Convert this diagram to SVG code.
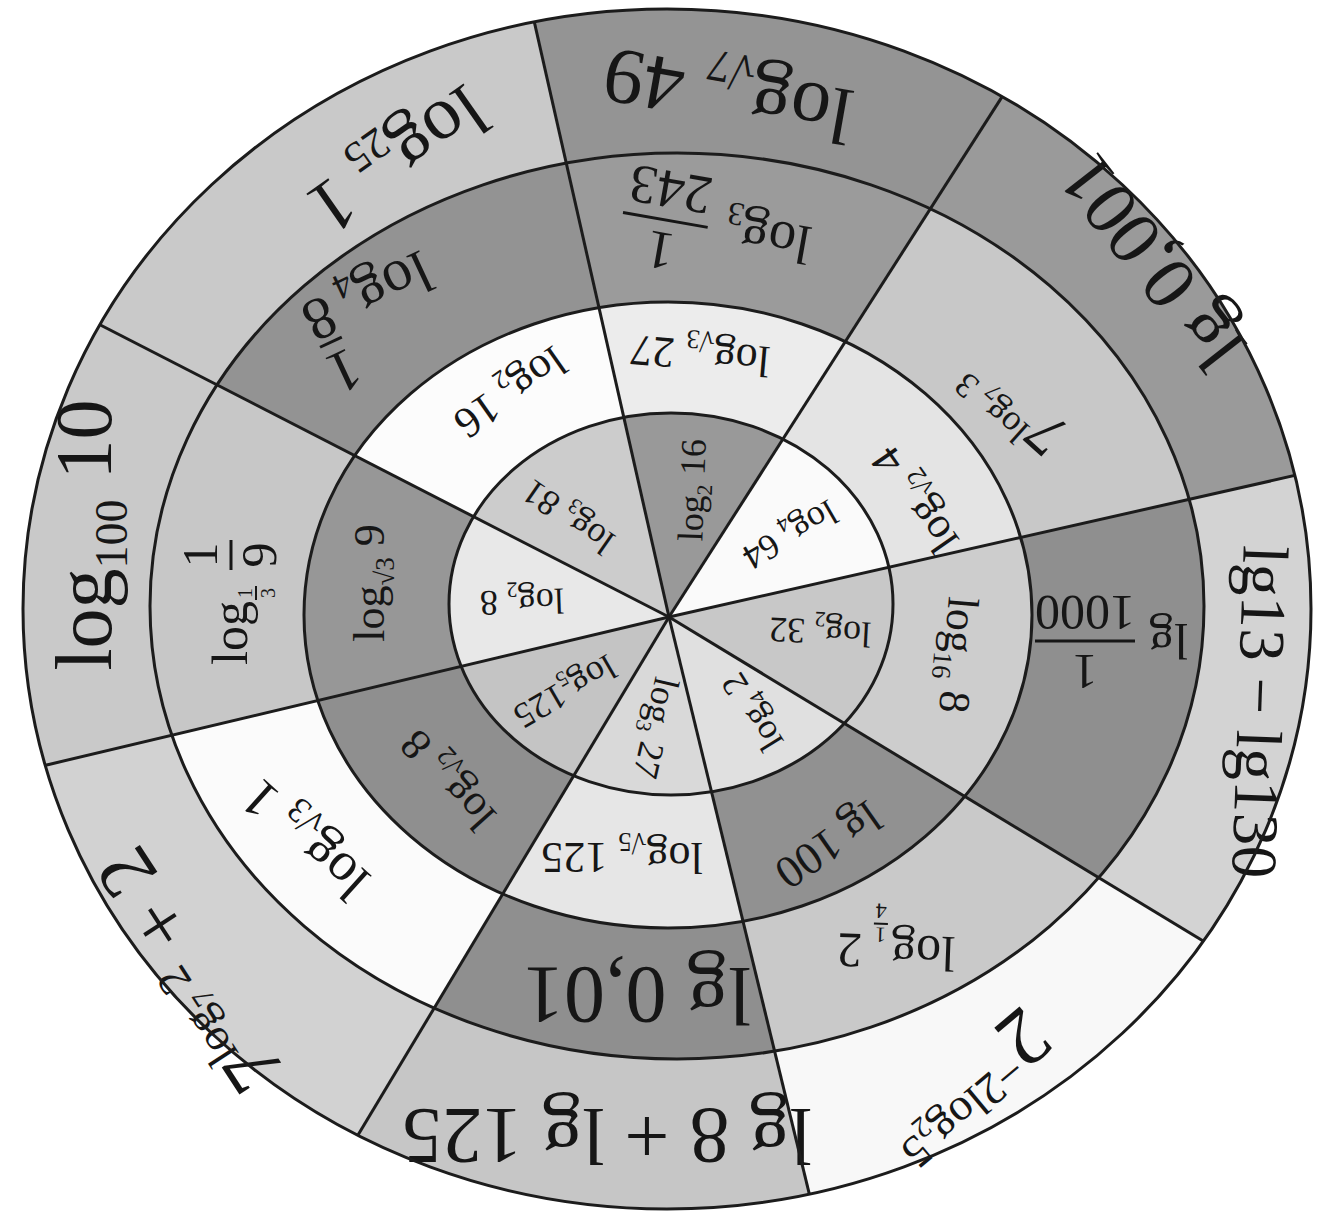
<svg xmlns="http://www.w3.org/2000/svg" width="1321" height="1220" viewBox="0 0 1321 1220">
<style>
.t{font-family:"Liberation Serif","DejaVu Serif",serif;fill:#161616}
.ln{stroke:#1c1c1c;stroke-width:3;fill:none}
.bar{stroke:#161616;stroke-width:3}
</style>
<defs>
<clipPath id="c4"><ellipse cx="667" cy="609" rx="644" ry="600"/></clipPath>
<clipPath id="c3"><ellipse cx="677" cy="606" rx="527" ry="453"/></clipPath>
<clipPath id="c2"><ellipse cx="668" cy="615" rx="364" ry="313"/></clipPath>
<clipPath id="c1"><ellipse cx="671" cy="604" rx="222" ry="191"/></clipPath>
</defs>
<rect width="1321" height="1220" fill="#ffffff"/>

<!-- outer ring -->
<g id="outer-a"><polygon points="669,617 -441,47 401,-567" fill="#c9c9c9" clip-path="url(#c4)"/>
<text class="t" font-size="76" text-anchor="middle" y="25" transform="translate(398,160) rotate(145)">log<tspan font-size="44" dy="15">25</tspan><tspan dy="-15"> 1</tspan></text></g>
<g id="outer-b"><polygon points="669,617 401,-567 1331,-417" fill="#949494" clip-path="url(#c4)"/>
<text class="t" font-size="80" text-anchor="middle" y="26" transform="translate(728,95) rotate(190)">log<tspan font-size="46" dy="16">√7</tspan><tspan dy="-16"> 49</tspan></text></g>
<g id="outer-c"><polygon points="669,617 1331,-417 1951,327" fill="#9a9a9a" clip-path="url(#c4)"/>
<text class="t" font-size="76" text-anchor="middle" y="25" transform="translate(1152,262) rotate(232)">lg 0,001</text></g>
<g id="outer-d"><polygon points="669,617 1951,327 1767,1283" fill="#d3d3d3" clip-path="url(#c4)"/>
<text class="t" font-size="65" text-anchor="middle" y="22" transform="translate(1260,712) rotate(92)">lg13 − lg130</text></g>
<g id="outer-e"><polygon points="669,617 1767,1283 955,1793" fill="#f8f8f8" clip-path="url(#c4)"/>
<text class="t" font-size="82" text-anchor="middle" y="27" transform="translate(968,1085) rotate(140)">2<tspan font-size="46" dy="-30">−2log</tspan><tspan font-size="30" dy="10">2</tspan><tspan font-size="46" dy="-10">5</tspan></text></g>
<g id="outer-f"><polygon points="669,617 955,1793 5,1723" fill="#c6c6c6" clip-path="url(#c4)"/>
<text class="t" font-size="80" text-anchor="middle" y="26" transform="translate(607,1135) rotate(180)">lg 8 + lg 125</text></g>
<g id="outer-g"><polygon points="669,617 5,1723 -601,919" fill="#d2d2d2" clip-path="url(#c4)"/>
<text class="t" font-size="80" text-anchor="middle" y="26" transform="translate(190,970) rotate(237)">7<tspan font-size="46" dy="-30">log</tspan><tspan font-size="30" dy="10">7</tspan><tspan font-size="46" dy="-10"> 2</tspan><tspan dy="30"> + 2</tspan></text></g>
<g id="outer-h"><polygon points="669,617 -601,919 -441,47" fill="#c9c9c9" clip-path="url(#c4)"/>
<text class="t" font-size="80" text-anchor="middle" y="26" transform="translate(85,535) rotate(270)">log<tspan font-size="46" dy="16">100</tspan><tspan dy="-16"> 10</tspan></text></g>

<!-- ring 3 -->
<g id="r3-a"><polygon points="669,617 -441,47 401,-567" fill="#939393" clip-path="url(#c3)"/>
<g class="t" transform="translate(372,312) rotate(155)">
<text font-size="60" x="-70" y="36">log<tspan font-size="36" dy="12">4</tspan></text>
<text font-size="60" x="50" y="36" text-anchor="middle">8</text>
<line class="bar" x1="38" y1="-10" x2="62" y2="-10"/>
<text font-size="60" x="50" y="-22" text-anchor="middle">1</text></g></g>
<g id="r3-b"><polygon points="669,617 401,-567 1331,-417" fill="#9b9b9b" clip-path="url(#c3)"/>
<g class="t" transform="translate(700,225) rotate(190)">
<text font-size="55" x="-112" y="17">log<tspan font-size="33" dy="11">3</tspan></text>
<line class="bar" x1="-8" y1="-1" x2="78" y2="-1"/>
<text font-size="55" x="35" y="-14" text-anchor="middle">1</text>
<text font-size="55" x="35" y="48" text-anchor="middle">243</text></g></g>
<g id="r3-c"><polygon points="669,617 1331,-417 1951,327" fill="#c8c8c8" clip-path="url(#c3)"/>
<text class="t" font-size="62" text-anchor="middle" y="20" transform="translate(1015,405) rotate(222)">7<tspan font-size="36" dy="-26">log</tspan><tspan font-size="24" dy="9">7</tspan><tspan font-size="36" dy="-9"> 3</tspan></text></g>
<g id="r3-d"><polygon points="669,617 1951,327 1767,1283" fill="#8f8f8f" clip-path="url(#c3)"/>
<g class="t" transform="translate(1110,640) rotate(180)">
<text font-size="50" x="-78" y="16">lg</text>
<line class="bar" x1="-25" y1="-1" x2="75" y2="-1"/>
<text font-size="50" x="25" y="-15" text-anchor="middle">1</text>
<text font-size="50" x="25" y="44" text-anchor="middle">1000</text></g></g>
<g id="r3-e"><polygon points="669,617 1767,1283 955,1793" fill="#c9c9c9" clip-path="url(#c3)"/>
<g class="t" transform="translate(890,950) rotate(182)">
<text font-size="50" x="-65" y="15">log</text>
<text font-size="22" x="10" y="22" text-anchor="middle">1</text>
<line class="bar" x1="3" y1="26" x2="17" y2="26" style="stroke-width:2"/>
<text font-size="22" x="10" y="46" text-anchor="middle">4</text>
<text font-size="50" x="28" y="15">2</text></g></g>
<g id="r3-f"><polygon points="669,617 955,1793 5,1723" fill="#8f8f8f" clip-path="url(#c3)"/>
<text class="t" font-size="82" text-anchor="middle" y="27" transform="translate(637,995) rotate(180)">lg 0,01</text></g>
<g id="r3-g"><polygon points="669,617 5,1723 -601,919" fill="#fbfbfb" clip-path="url(#c3)"/>
<text class="t" font-size="55" text-anchor="middle" y="18" transform="translate(305,840) rotate(222)">log<tspan font-size="36" dy="12">√3</tspan><tspan dy="-12"> 1</tspan></text></g>
<g id="r3-h"><polygon points="669,617 -601,919 -441,47" fill="#c7c7c7" clip-path="url(#c3)"/>
<g class="t" transform="translate(232,585) rotate(270)">
<text font-size="50" x="-80" y="15">log</text>
<text font-size="20" x="-8" y="20" text-anchor="middle">1</text>
<line class="bar" x1="-15" y1="24" x2="-1" y2="24" style="stroke-width:2"/>
<text font-size="20" x="-8" y="43" text-anchor="middle">3</text>
<line class="bar" x1="15" y1="-1" x2="45" y2="-1"/>
<text font-size="50" x="30" y="-15" text-anchor="middle">1</text>
<text font-size="50" x="30" y="44" text-anchor="middle">9</text></g></g>

<!-- ring 2 -->
<g id="r2-a"><polygon points="669,617 -441,47 401,-567" fill="#fcfcfc" clip-path="url(#c2)"/>
<text class="t" font-size="44" text-anchor="middle" y="14" transform="translate(510,392) rotate(145)">log<tspan font-size="27" dy="10">2</tspan><tspan dy="-10"> 16</tspan></text></g>
<g id="r2-b"><polygon points="669,617 401,-567 1331,-417" fill="#ececec" clip-path="url(#c2)"/>
<text class="t" font-size="44" text-anchor="middle" y="14" transform="translate(700,355) rotate(185)">log<tspan font-size="27" dy="10">√3</tspan><tspan dy="-10"> 27</tspan></text></g>
<g id="r2-c"><polygon points="669,617 1331,-417 1951,327" fill="#e4e4e4" clip-path="url(#c2)"/>
<text class="t" font-size="44" text-anchor="middle" y="14" transform="translate(915,500) rotate(235)">log<tspan font-size="27" dy="10">√2</tspan><tspan dy="-10"> 4</tspan></text></g>
<g id="r2-d"><polygon points="669,617 1951,327 1767,1283" fill="#cdcdcd" clip-path="url(#c2)"/>
<text class="t" font-size="44" text-anchor="middle" y="14" transform="translate(958,655) rotate(95)">log<tspan font-size="27" dy="10">16</tspan><tspan dy="-10"> 8</tspan></text></g>
<g id="r2-e"><polygon points="669,617 1767,1283 955,1793" fill="#919191" clip-path="url(#c2)"/>
<text class="t" font-size="46" text-anchor="middle" y="15" transform="translate(828,845) rotate(145)">lg 100</text></g>
<g id="r2-f"><polygon points="669,617 955,1793 5,1723" fill="#e6e6e6" clip-path="url(#c2)"/>
<text class="t" font-size="44" text-anchor="middle" y="14" transform="translate(622,857) rotate(180)">log<tspan font-size="27" dy="10">√5</tspan><tspan dy="-10"> 125</tspan></text></g>
<g id="r2-g"><polygon points="669,617 5,1723 -601,919" fill="#8f8f8f" clip-path="url(#c2)"/>
<text class="t" font-size="44" text-anchor="middle" y="14" transform="translate(448,780) rotate(228)">log<tspan font-size="27" dy="10">√2</tspan><tspan dy="-10"> 8</tspan></text></g>
<g id="r2-h"><polygon points="669,617 -601,919 -441,47" fill="#979797" clip-path="url(#c2)"/>
<text class="t" font-size="44" text-anchor="middle" y="14" transform="translate(370,583) rotate(270)">log<tspan font-size="27" dy="10">√3</tspan><tspan dy="-10"> 9</tspan></text></g>

<!-- inner disk -->
<g id="r1-a"><polygon points="669,617 -441,47 401,-567" fill="#cccccc" clip-path="url(#c1)"/>
<text class="t" font-size="36" text-anchor="middle" y="12" transform="translate(568,517) rotate(215)">log<tspan font-size="22" dy="8">3</tspan><tspan dy="-8"> 81</tspan></text></g>
<g id="r1-b"><polygon points="669,617 401,-567 1331,-417" fill="#999999" clip-path="url(#c1)"/>
<text class="t" font-size="36" text-anchor="middle" y="12" transform="translate(692,490) rotate(272)">log<tspan font-size="22" dy="8">2</tspan><tspan dy="-8"> 16</tspan></text></g>
<g id="r1-c"><polygon points="669,617 1331,-417 1951,327" fill="#fafafa" clip-path="url(#c1)"/>
<text class="t" font-size="36" text-anchor="middle" y="12" transform="translate(790,535) rotate(150)">log<tspan font-size="22" dy="8">4</tspan><tspan dy="-8"> 64</tspan></text></g>
<g id="r1-d"><polygon points="669,617 1951,327 1767,1283" fill="#c8c8c8" clip-path="url(#c1)"/>
<text class="t" font-size="36" text-anchor="middle" y="12" transform="translate(820,632) rotate(183)">log<tspan font-size="22" dy="8">2</tspan><tspan dy="-8"> 32</tspan></text></g>
<g id="r1-e"><polygon points="669,617 1767,1283 955,1793" fill="#e0e0e0" clip-path="url(#c1)"/>
<text class="t" font-size="36" text-anchor="middle" y="12" transform="translate(752,712) rotate(238)">log<tspan font-size="22" dy="8">4</tspan><tspan dy="-8"> 2</tspan></text></g>
<g id="r1-f"><polygon points="669,617 955,1793 5,1723" fill="#d9d9d9" clip-path="url(#c1)"/>
<text class="t" font-size="36" text-anchor="middle" y="12" transform="translate(656,728) rotate(103)">log<tspan font-size="22" dy="8">3</tspan><tspan dy="-8"> 27</tspan></text></g>
<g id="r1-g"><polygon points="669,617 5,1723 -601,919" fill="#c4c4c4" clip-path="url(#c1)"/>
<text class="t" font-size="36" text-anchor="middle" y="12" transform="translate(565,692) rotate(150)">log<tspan font-size="22" dy="8">5</tspan><tspan dy="-8">125</tspan></text></g>
<g id="r1-h"><polygon points="669,617 -601,919 -441,47" fill="#e8e8e8" clip-path="url(#c1)"/>
<text class="t" font-size="36" text-anchor="middle" y="12" transform="translate(522,602) rotate(178)">log<tspan font-size="22" dy="8">2</tspan><tspan dy="-8"> 8</tspan></text></g>

<!-- ring outlines -->
<g id="rings">
<ellipse class="ln" cx="667" cy="609" rx="644" ry="600"/>
<ellipse class="ln" cx="677" cy="606" rx="527" ry="453"/>
<ellipse class="ln" cx="668" cy="615" rx="364" ry="313"/>
<ellipse class="ln" cx="671" cy="604" rx="222" ry="191"/>
</g>
<!-- spokes -->
<g id="connectors" class="ln" clip-path="url(#c4)">
<line x1="669" y1="617" x2="401" y2="-567"/>
<line x1="669" y1="617" x2="1331" y2="-417"/>
<line x1="669" y1="617" x2="1951" y2="327"/>
<line x1="669" y1="617" x2="1767" y2="1283"/>
<line x1="669" y1="617" x2="955" y2="1793"/>
<line x1="669" y1="617" x2="5" y2="1723"/>
<line x1="669" y1="617" x2="-601" y2="919"/>
<line x1="669" y1="617" x2="-441" y2="47"/>
</g>
</svg>
